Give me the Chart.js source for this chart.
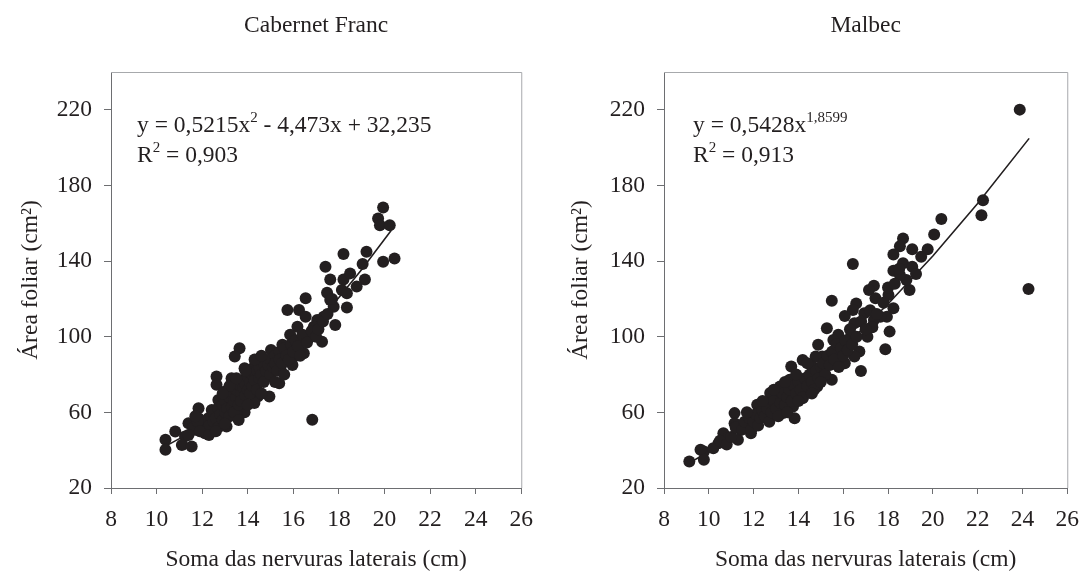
<!DOCTYPE html>
<html>
<head>
<meta charset="utf-8">
<script src="https://cdn.jsdelivr.net/npm/chart.js@4.4.1/dist/chart.umd.min.js"></script>
<style>
  body { margin: 0; background: #fff; }
  .panel { position: absolute; top: 0; height: 575px; }
</style>
</head>
<body>
<div class="panel" style="left:0;width:545px"><canvas id="cf"></canvas></div>
<div class="panel" style="left:545px;width:546px"><canvas id="mb"></canvas></div>
<script>
// Cabernet Franc: soma das nervuras laterais (cm) vs area foliar (cm2)
const cfX = [19.94, 19.72, 19.8, 20.23, 19.94, 20.44, 18.2, 19.21, 19.04, 19.14, 17.41, 17.62, 18.2, 18.49, 18.13,
  18.78, 17.48, 18.35, 16.54, 17.62, 17.77, 18.35, 15.74, 16.25, 16.54, 17.84, 17.33, 17.05, 16.18, 16.9,
  16.75, 17.26, 15.86, 16.32, 15.52, 15.02, 15.6, 16.03, 16.46, 15.45, 15.96, 15.38, 14.87, 13.64, 13.43,
  12.63, 12.63, 14.95, 14.44, 13.86, 14.29, 14.72, 14.58, 14.15, 13.29, 13.58, 14.01, 14.44, 14.29, 13.86,
  13.5, 13.07, 13.14, 12.71, 12.42, 13.29, 13.72, 13.0, 12.27, 11.84, 11.84, 11.4, 12.12, 11.69, 11.25,
  10.82, 11.11, 11.54, 10.39, 10.39, 16.83, 11.98, 12.49, 12.7,
  12.0, 12.1, 12.2, 12.3, 12.4, 12.5, 12.5, 12.6, 12.7, 12.7, 12.8, 12.9, 12.9, 13.0, 13.0, 13.1, 13.2, 13.2,
  13.3, 13.3, 13.4, 13.4, 13.5, 13.5, 13.6, 13.6, 13.7, 13.7, 13.8, 13.8, 13.9, 13.9, 14.0, 14.0, 14.1, 14.1,
  14.2, 14.2, 14.3, 14.4, 14.4, 14.5, 14.5, 14.6, 14.7, 14.7, 14.8, 14.9, 15.0, 15.0, 15.1, 15.2, 15.2, 15.3,
  15.4, 15.4, 15.5, 15.6, 15.7, 15.8, 15.9, 16.0, 16.1, 16.2, 16.3, 16.4, 16.6, 16.8, 17.0, 17.1, 17.3, 17.5,
  17.7, 11.6, 11.8, 11.9, 11.4, 11.7,
  13.2, 13.5, 13.9, 14.3, 14.6, 12.9, 13.6, 14.0, 14.6, 15.2, 15.6, 12.3, 12.6, 13.0];
const cfY = [168.3, 162.5, 159, 159, 139.6, 141.4, 143.7, 144.9, 138.4, 130.3, 137, 130.3, 130.3, 133.5, 124.7,
  126.5, 123.3, 123, 120.3, 119.4, 115.9, 115.5, 114.1, 114.1, 110.6, 106.2, 110.6, 108.8, 105.3, 105.3,
  100, 97.4, 101, 96.6, 95.7, 93, 91.3, 89.5, 91.3, 84.2, 85.1, 75.4, 79, 93.9, 89.5,
  79, 74.6, 68.4, 75.4, 83.3, 84.2, 86, 80.7, 79, 78.1, 73.7, 71.9, 68.4, 64.9, 60,
  59.6, 52.5, 57.8, 66.6, 61.3, 64.9, 68.4, 71, 56.9, 62.2, 56.9, 54.3, 49, 50.8, 47.3,
  49.9, 42.8, 41.9, 45.5, 40.2, 56.1, 54.3, 56.1, 54.3,
  52, 55, 50, 53, 58, 55, 60, 57, 52, 62, 59, 56, 64, 60, 66, 62, 58, 68,
  63, 70, 66, 60, 68, 72, 64, 75, 70, 66, 73, 77, 69, 75, 72, 79, 70, 76,
  74, 80, 77, 72, 82, 78, 84, 80, 76, 86, 82, 85, 80, 88, 84, 90, 86, 82,
  92, 88, 86, 94, 90, 88, 96, 92, 98, 95, 90, 101, 97, 103, 100, 104, 108, 112,
  120, 52, 55, 50, 48, 58,
  74, 78, 82, 88, 90, 70, 56, 64, 70, 76, 80, 48, 50, 54];
const cfTrendX = [10.5, 11, 12, 13, 14, 15, 16, 17, 18, 19, 20.3];
const cfTrendY = [42.8, 46.1, 53.7, 62.2, 71.8, 82.5, 94.2, 106.9, 120.7, 135.5, 156.3];

// Malbec
const mbX = [23.88, 24.27, 22.24, 22.17, 20.38, 20.06, 19.77, 19.48, 19.08, 18.67, 18.53, 18.24, 18.67, 19.08, 19.25,
  18.24, 18.96, 18.82, 18.53, 18.02, 18.24, 17.95, 18.07, 17.88, 17.66, 16.43, 15.49, 17.37, 17.15, 17.44,
  16.58, 16.43, 16.94, 16.07, 17.37, 17.08, 17.3, 16.5, 16.36, 16.72, 16.79, 16.5, 16.07, 15.78, 15.56,
  15.27, 14.88, 15.06, 15.49, 15.64, 14.77, 14.19, 14.62, 15.06, 14.84, 13.68, 13.61, 14.05, 14.48, 14.19,
  13.76, 13.83, 13.32, 13.18, 13.18, 12.74, 12.67, 13.03, 12.16, 12.16, 12.67, 11.88, 11.15, 11.15, 11.3,
  11.44, 11.88, 10.65, 10.86, 10.43, 9.78, 9.63, 9.78, 9.13,
  10.2, 10.5, 10.8, 11.0, 11.2, 11.5, 11.6, 11.8, 11.9, 12.0, 12.1, 12.2, 12.3, 12.4, 12.5, 12.6, 12.7, 12.8,
  12.9, 13.0, 13.1, 13.2, 13.3, 13.4, 13.5, 13.6, 13.7, 13.8, 13.9, 14.0, 14.1, 14.2, 14.3, 14.4, 14.5, 14.6,
  14.7, 14.8, 14.9, 15.0, 15.1, 15.2, 15.3, 15.4, 15.5, 15.6, 15.7, 15.8, 15.9, 16.0, 16.1, 16.2, 16.3, 16.4,
  16.6, 16.8, 17.0, 17.2, 17.5, 17.8, 18.0, 18.3, 18.5,
  12.9, 13.4, 13.9, 14.4, 14.0, 14.6, 15.0, 13.5, 12.4, 11.7];
const mbY = [220.1, 125.2, 172.2, 164.3, 162.2, 154.1, 146.2, 142.3, 146.2, 152, 147.9, 143.5, 138.8, 137, 133.2,
  134.9, 124.7, 130, 132.6, 122.1, 115, 110.6, 102.7, 93.4, 110.6, 138.4, 119, 126.9, 124.7, 120.3,
  117.6, 114.1, 112.4, 111, 108.8, 100, 105, 107.1, 101, 92.2, 81.9, 89.5, 86, 101, 98.3,
  104.5, 95.7, 89.5, 77.2, 93, 89.5, 87.7, 84.2, 80.7, 73.7, 84.2, 77.2, 75.4, 71.9, 67.5,
  63.1, 56.9, 59.6, 73.7, 68.4, 70.2, 64.9, 63.1, 64, 59.6, 56.9, 54.3, 59.6, 54.3, 45.5,
  50.8, 49, 49, 46.4, 43.7, 39.3, 40.2, 34.9, 34,
  41, 45, 43, 47, 52, 51, 55, 57, 51, 55, 59, 53, 57, 61, 58, 62, 55, 60,
  66, 62, 58, 65, 70, 64, 68, 72, 66, 74, 70, 76, 72, 68, 78, 74, 80, 76,
  72, 82, 78, 84, 86, 80, 90, 85, 92, 88, 96, 84, 94, 90, 98, 93, 104, 96,
  100, 108, 104, 114, 112, 118, 126, 128, 136,
  72, 76, 80, 86, 66, 70, 76, 60, 66, 60];
const mbTrendX = [9.2, 10, 12, 14, 16, 18, 20, 22, 24.3];
const mbTrendY = [33.7, 39.3, 55.2, 73.5, 94.2, 117.3, 142.7, 170.4, 204.9];

const xMin = 8, xMax = 26, xStep = 2;
const yMin = 20, yMax = 240;
const yTickValues = [20, 60, 100, 140, 180, 220];

const INK = '#231f20';
const AXIS = '#6d6e71';
const FRAME = '#a7a9ac';
const FONT = 'Liberation Serif, Times New Roman, serif';
const FS = 23.5;

function pts(xs, ys) {
  return xs.map((x, i) => ({ x: x, y: ys[i] }));
}

function drawRuns(ctx, x, y, runs) {
  ctx.textAlign = 'left';
  ctx.textBaseline = 'alphabetic';
  runs.forEach(r => {
    ctx.font = (r.sup ? 15 : FS) + 'px ' + FONT;
    ctx.fillText(r.t, x, r.sup ? y - 10 : y);
    x += ctx.measureText(r.t).width;
  });
}

function makePanel(id, xs, ys, tx, ty, title, eqLines, opt) {
  const notes = {
    id: 'notes_' + id,
    afterDraw(chart) {
      const ctx = chart.ctx;
      const a = chart.chartArea;
      ctx.save();
      // frame top/right
      ctx.strokeStyle = FRAME;
      ctx.lineWidth = 1;
      ctx.beginPath();
      ctx.moveTo(a.left, a.top + 0.5);
      ctx.lineTo(a.right + 0.5, a.top + 0.5);
      ctx.lineTo(a.right + 0.5, a.bottom);
      ctx.stroke();
      ctx.fillStyle = INK;
      ctx.font = FS + 'px ' + FONT;
      ctx.textAlign = 'center';
      ctx.textBaseline = 'middle';
      ctx.fillText(title, (a.left + a.right) / 2, 26);
      drawRuns(ctx, a.left + opt.eqDx, 132, eqLines[0]);
      drawRuns(ctx, a.left + opt.eqDx, 162, eqLines[1]);
      ctx.restore();
    }
  };

  return new Chart(document.getElementById(id), {
    type: 'scatter',
    data: {
      datasets: [{
        data: pts(xs, ys),
        pointRadius: 6,
        pointHoverRadius: 6,
        pointBackgroundColor: INK,
        pointBorderWidth: 0,
        order: 1
      }, {
        data: pts(tx, ty),
        showLine: true,
        pointRadius: 0,
        borderColor: INK,
        borderWidth: 1.6,
        tension: 0,
        order: 2
      }]
    },
    options: {
      responsive: true,
      maintainAspectRatio: false,
      animation: false,
      layout: { padding: { top: 72, right: opt.padRight, left: 0, bottom: 0 } },
      plugins: { legend: { display: false }, tooltip: { enabled: false } },
      scales: {
        x: {
          type: 'linear', min: xMin, max: xMax,
          ticks: { stepSize: xStep, color: INK, font: { family: FONT, size: FS }, padding: 12, maxRotation: 0 },
          grid: { drawOnChartArea: false, drawTicks: true, tickLength: 6, color: AXIS },
          border: { color: AXIS, width: 1 },
          title: { display: true, text: 'Soma das nervuras laterais (cm)', color: INK,
                   font: { family: FONT, size: FS }, padding: { top: 0, bottom: 1 } },
          afterFit(s) { s.height = 87; }
        },
        y: {
          type: 'linear', min: yMin, max: yMax,
          ticks: { color: INK, font: { family: FONT, size: FS }, padding: 12 },
          afterBuildTicks(s) { s.ticks = yTickValues.map(v => ({ value: v })); },
          grid: { drawOnChartArea: false, drawTicks: true, tickLength: 7, color: AXIS },
          border: { color: AXIS, width: 1 },
          title: { display: true, text: 'Área foliar (cm²)', color: INK,
                   font: { family: FONT, size: FS }, padding: { top: opt.yTitlePad, bottom: 0 } },
          afterFit(s) { s.width = opt.yWidth; }
        }
      }
    },
    plugins: [notes]
  });
}

makePanel('cf', cfX, cfY, cfTrendX, cfTrendY, 'Cabernet Franc', [
  [{ t: 'y = 0,5215x' }, { t: '2', sup: true }, { t: ' - 4,473x + 32,235' }],
  [{ t: 'R' }, { t: '2', sup: true }, { t: ' = 0,903' }]
], { yWidth: 111, padRight: 19, yTitlePad: 17, eqDx: 26 });

makePanel('mb', mbX, mbY, mbTrendX, mbTrendY, 'Malbec', [
  [{ t: 'y = 0,5428x' }, { t: '1,8599', sup: true }],
  [{ t: 'R' }, { t: '2', sup: true }, { t: ' = 0,913' }]
], { yWidth: 119, padRight: 12, yTitlePad: 22, eqDx: 29 });
</script>
</body>
</html>
